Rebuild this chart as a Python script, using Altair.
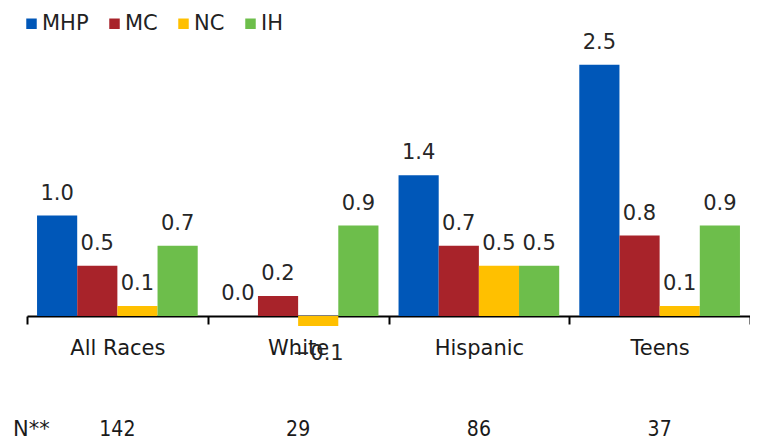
import altair as alt
import pandas as pd

groups = ["All Races", "White", "Hispanic", "Teens"]
series = ["MHP", "MC", "NC", "IH"]
mhp = [1.0, 0.0, 1.4, 2.5]
mc = [0.5, 0.2, 0.7, 0.8]
nc = [0.1, -0.1, 0.5, 0.1]
ih = [0.7, 0.9, 0.5, 0.9]
n_counts = ["142", "29", "86", "37"]
n_label = "N**"
colors = ["#0057B8", "#A8232A", "#FFC000", "#6DBE4B"]

values = {"MHP": mhp, "MC": mc, "NC": nc, "IH": ih}
rows = []
for s in series:
    for g, v in zip(groups, values[s]):
        rows.append({"group": g, "series": s, "value": v})
df = pd.DataFrame(rows)
ndf = pd.DataFrame({"group": groups, "n": n_counts})
hdf = pd.DataFrame({"t": [n_label]})

FONT = "DejaVu Sans"
COND = "DejaVu Sans Condensed, Liberation Sans Narrow, DejaVu Sans"

xenc = alt.X(
    "group:N",
    sort=groups,
    scale=alt.Scale(paddingInner=0, paddingOuter=0),
    axis=alt.Axis(
        title=None,
        labelAngle=0,
        labelFont=FONT,
        labelFontSize=21,
        labelColor="#1a1a1a",
        labelPadding=13,
        domainColor="black",
        domainWidth=2,
        tickColor="black",
        tickWidth=2,
        tickSize=8,
        tickBand="extent",
    ),
)
xoff = alt.XOffset(
    "series:N", sort=series, scale=alt.Scale(paddingInner=0, paddingOuter=0.25)
)
yenc = alt.Y(
    "value:Q",
    scale=alt.Scale(domain=[0, 3.065], nice=False, zero=True),
    axis=None,
)

base = alt.Chart(df).encode(x=xenc, xOffset=xoff, y=yenc)

bars = base.mark_bar().encode(
    color=alt.Color(
        "series:N",
        sort=series,
        scale=alt.Scale(domain=series, range=colors),
        legend=alt.Legend(
            title=None,
            orient="none",
            legendX=-6,
            legendY=5,
            direction="horizontal",
            symbolType="square",
            symbolSize=110,
            symbolStrokeWidth=0,
            labelFont=FONT,
            labelFontSize=21,
            labelColor="#222222",
            labelOffset=0,
            columnPadding=15,
            padding=0,
            labelLimit=200,
        ),
    )
)

pos_labels = base.transform_filter("datum.value >= 0").mark_text(
    baseline="alphabetic", dy=-16, font=FONT, fontSize=21, color="#262626"
).encode(text=alt.Text("value:Q", format=".1f"))

neg_labels = base.transform_filter("datum.value < 0").mark_text(
    baseline="alphabetic", dy=34, font=FONT, fontSize=21, color="#262626"
).encode(text=alt.Text("value:Q", format=".1f"))

n_row = alt.Chart(ndf).mark_text(
    baseline="alphabetic", font=COND, fontSize=21, color="#1a1a1a"
).encode(x=alt.X("group:N", sort=groups), y=alt.value(428), text="n:N")

n_head = alt.Chart(hdf).mark_text(
    baseline="alphabetic", align="left", font=FONT, fontSize=21, color="#1a1a1a"
).encode(x=alt.value(-14), y=alt.value(428), text="t:N")

chart = (
    alt.layer(bars, pos_labels, neg_labels, n_row, n_head)
    .properties(
        width=723,
        height=308,
        padding={"left": 19, "top": 0, "right": 0, "bottom": 125},
        autosize=alt.AutoSizeParams(type="none"),
        background="white",
    )
    .configure_view(stroke=None)
)

chart.save("out.html", embed_options={"renderer": "svg", "actions": False})
